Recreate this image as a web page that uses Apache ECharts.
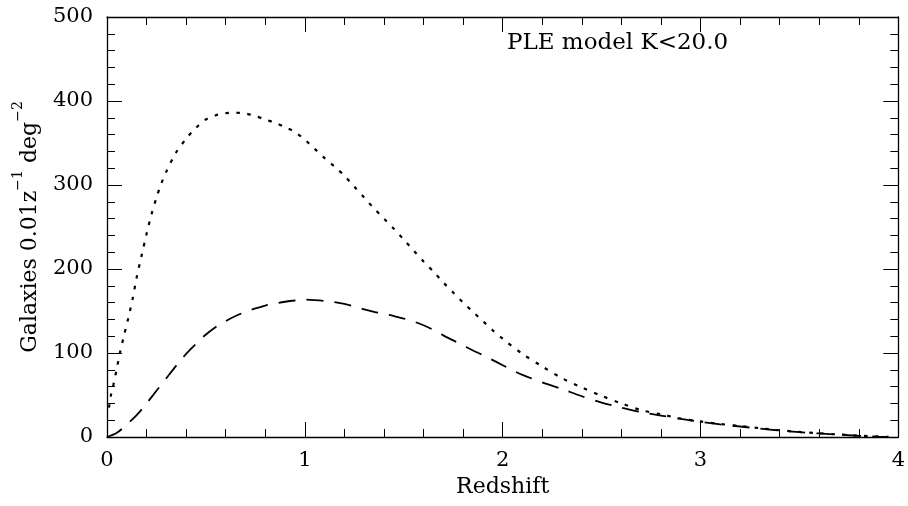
<!DOCTYPE html>
<html>
<head>
<meta charset="utf-8">
<script src="https://cdn.jsdelivr.net/npm/echarts@6/dist/echarts.min.js"></script>
<style>html,body{margin:0;padding:0;background:#fff}#c{width:908px;height:506px}</style>
</head>
<body>
<div id="c"></div>
<script>
// Dotted curve (PLE model, all galaxies)
const dottedZ = [0.01,0.02,0.032,0.05,0.066,0.085,0.108,0.13,0.15,0.175,0.2,0.225,0.25,0.275,0.3,0.35,0.4,0.45,0.5,0.55,0.6,0.65,0.7,0.75,0.8,0.85,0.9,0.95,1.0,1.05,1.1,1.15,1.2,1.25,1.3,1.35,1.4,1.45,1.5,1.55,1.6,1.65,1.7,1.75,1.8,1.85,1.9,1.95,2.0,2.1,2.2,2.3,2.4,2.5,2.6,2.7,2.8,2.9,3.0,3.1,3.2,3.3,3.4,3.5,3.6,3.7,3.8,3.9,3.95];
const dottedN = [35,50,62,82,101,120,142,165,190,216,242,265,285,302,316,339,355,368,378,383,385.5,386,385,382,378,374,369,363,354,343,332,322,311,298,285,272,260,248,235,222,209,197,184,172,160,149,138,127,117,99,84,70,59,49,40,32,27,22,18.5,15.5,13,10.5,8,6,4.5,3,1.6,0.6,0.2];
// Dashed curve
const dashedZ = [0,0.05,0.1,0.15,0.2,0.25,0.3,0.35,0.4,0.45,0.5,0.55,0.6,0.65,0.7,0.75,0.8,0.85,0.9,0.95,1.0,1.05,1.1,1.15,1.2,1.25,1.3,1.35,1.4,1.45,1.5,1.55,1.6,1.65,1.7,1.75,1.8,1.85,1.9,1.95,2.0,2.05,2.1,2.2,2.3,2.4,2.5,2.6,2.7,2.8,2.9,3.0,3.1,3.2,3.3,3.4,3.5,3.6,3.7,3.8,3.9,3.95];
const dashedN = [0,5,15,26,40,55,70,85,99,111,122,131,138,144,149,153,156.5,159,161,162.5,163.5,163,162,160.5,158.5,155.5,152,149,146.5,144,141,137.5,133,127.5,121,115,109,103,97.5,91.5,85.5,79.5,74,65,57,48.5,41,35,29.5,25.5,21.5,18,15,12.5,10,7.8,5.8,4.2,2.8,1.4,0.4,0];
const xTicks = [0,1,2,3,4];
const yTicks = [0,100,200,300,400,500];
const titleText = 'PLE model K<20.0';

const FONT = 'DejaVu Serif';
const pair = (xs, ys) => xs.map((x, i) => [x, ys[i]]);
const axisCommon = {
  axisLine: {show: true, onZero: false, lineStyle: {color: '#000', width: 1.3}},
  axisTick: {show: true, inside: true, length: 15, lineStyle: {color: '#000', width: 1}},
  minorTick: {show: true, splitNumber: 5, length: 8, lineStyle: {color: '#000', width: 1}},
  splitLine: {show: false},
  minorSplitLine: {show: false}
};
const chart = echarts.init(document.getElementById('c'), null, {renderer: 'canvas'});
chart.setOption({
  animation: false,
  backgroundColor: '#fff',
  title: {text: titleText, left: 502, top: 27, textStyle: {fontFamily: FONT, fontSize: 23, fontWeight: 'normal', color: '#000'}},
  grid: {left: 107, right: 9, top: 17, bottom: 69},
  xAxis: [
    Object.assign({type: 'value', min: 0, max: 4, interval: 1, position: 'bottom',
      name: 'Redshift', nameLocation: 'middle', nameGap: 39,
      nameTextStyle: {fontFamily: FONT, fontSize: 22, color: '#000'},
      axisLabel: {fontFamily: FONT, fontSize: 21, color: '#000', margin: 13,
        formatter: v => xTicks.includes(v) ? String(v) : ''}}, axisCommon),
    Object.assign({type: 'value', min: 0, max: 4, interval: 1, position: 'top',
      axisLabel: {show: false}}, axisCommon)
  ],
  yAxis: [
    Object.assign({type: 'value', min: 0, max: 500, interval: 100, position: 'left',
      name: '{b|Galaxies 0.01z}{s|−1}{b| deg}{s|−2}', nameLocation: 'middle', nameGap: 66,
      nameTextStyle: {fontFamily: FONT, fontSize: 22, color: '#000',
        rich: {b: {fontFamily: FONT, fontSize: 22, color: '#000', lineHeight: 30, verticalAlign: 'bottom'},
               s: {fontFamily: FONT, fontSize: 14, color: '#000', lineHeight: 30, verticalAlign: 'top'}}},
      axisLabel: {fontFamily: FONT, fontSize: 21, color: '#000', margin: 14,
        formatter: v => yTicks.includes(v) ? String(v) : ''}}, axisCommon),
    Object.assign({type: 'value', min: 0, max: 500, interval: 100, position: 'right',
      axisLabel: {show: false}}, axisCommon)
  ],
  series: [
    {type: 'line', data: pair(dottedZ, dottedN), showSymbol: false, smooth: 0.3, silent: true,
      lineStyle: {color: '#000', width: 2.2, type: [3.5, 7.5], cap: 'butt'}},
    {type: 'line', data: pair(dashedZ, dashedN), showSymbol: false, smooth: 0.3, silent: true,
      lineStyle: {color: '#000', width: 1.8, type: [17, 11], cap: 'butt'}}
  ]
});
</script>
</body>
</html>
